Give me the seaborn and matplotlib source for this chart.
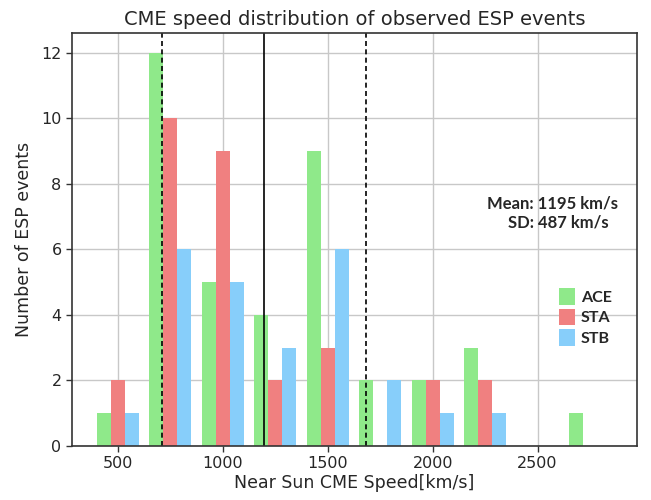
import numpy as np
import pandas as pd
import matplotlib
matplotlib.use("Agg")
import matplotlib.pyplot as plt
import seaborn as sns
from matplotlib.patches import Patch

# ---- data ----
bin_centers = [500, 750, 1000, 1250, 1500, 1750, 2000, 2250, 2500, 2750]
ace_counts = [1, 12, 5, 4, 9, 2, 2, 3, 0, 1]
sta_counts = [2, 10, 9, 2, 3, 0, 2, 2, 0, 0]
stb_counts = [1, 6, 5, 3, 6, 2, 1, 1, 0, 0]
spacecraft = ["ACE", "STA", "STB"]
colors = ["#8fe98a", "#f08080", "#87cefa"]
mean_speed = 1195
sd_speed = 487
bin_width = 250
x_ticks = [500, 1000, 1500, 2000, 2500]
y_ticks = [0, 2, 4, 6, 8, 10, 12]

rows = []
for name, counts in zip(spacecraft, [ace_counts, sta_counts, stb_counts]):
    for c, n in zip(bin_centers, counts):
        rows.append({"speed": c, "count": n, "sc": name})
df = pd.DataFrame(rows)
edges = [float(c - bin_width / 2) for c in bin_centers] + [float(bin_centers[-1] + bin_width / 2)]

sns.set_style("white")
plt.rcParams["font.family"] = ["DejaVu Sans"]

fig = plt.figure(figsize=(6.51, 5.0), dpi=100)
ax = fig.add_axes([72 / 651, 1 - 446 / 500, (637 - 72) / 651, (446 - 33) / 500])

sns.histplot(data=df, x="speed", weights="count", hue="sc", hue_order=spacecraft,
             palette=colors, bins=edges, multiple="dodge", shrink=0.8,
             alpha=1, linewidth=0, legend=False, ax=ax)

ax.grid(True, color="#c8c8c8", linewidth=1)
ax.set_axisbelow(True)

ax.axvline(mean_speed, color="black", linewidth=1.2)
ax.axvline(mean_speed - sd_speed, color="black", linewidth=1.2, linestyle="--", dashes=(3, 2))
ax.axvline(mean_speed + sd_speed, color="black", linewidth=1.2, linestyle="--", dashes=(3, 2))

ax.set_xlim(281, 2974)
ax.set_ylim(0, 12.6)
ax.set_xticks(x_ticks)
ax.set_yticks(y_ticks)
ax.tick_params(axis="both", labelsize=11.5, length=4, width=1, color="#333333",
               direction="out", bottom=True, left=True)
for s in ax.spines.values():
    s.set_color("#333333")
    s.set_linewidth(1.2)

ax.set_title("CME speed distribution of observed ESP events", fontsize=14, pad=6)
ax.set_xlabel("Near Sun CME Speed[km/s]", fontsize=12.5, labelpad=2)
ax.set_ylabel("Number of ESP events", fontsize=12.5, labelpad=6)

ax.text(0.966, 0.588, f"Mean: {mean_speed} km/s", transform=ax.transAxes,
        ha="right", va="center", fontsize=12, fontweight="bold", family=["Lato", "DejaVu Sans"])
ax.text(0.949, 0.54, f"SD: {sd_speed} km/s", transform=ax.transAxes,
        ha="right", va="center", fontsize=12, fontweight="bold", family=["Lato", "DejaVu Sans"])

handles = [Patch(facecolor=c, edgecolor="none", label=n) for c, n in zip(colors, spacecraft)]
leg = ax.legend(handles=handles, loc="upper left", bbox_to_anchor=(0.836, 0.417),
                frameon=False, handlelength=1.0, handleheight=1.2, handletextpad=0.4,
                labelspacing=0.25, prop={"family": "Lato", "weight": "bold", "size": 11.5})

fig.savefig("out.png", dpi=100)
